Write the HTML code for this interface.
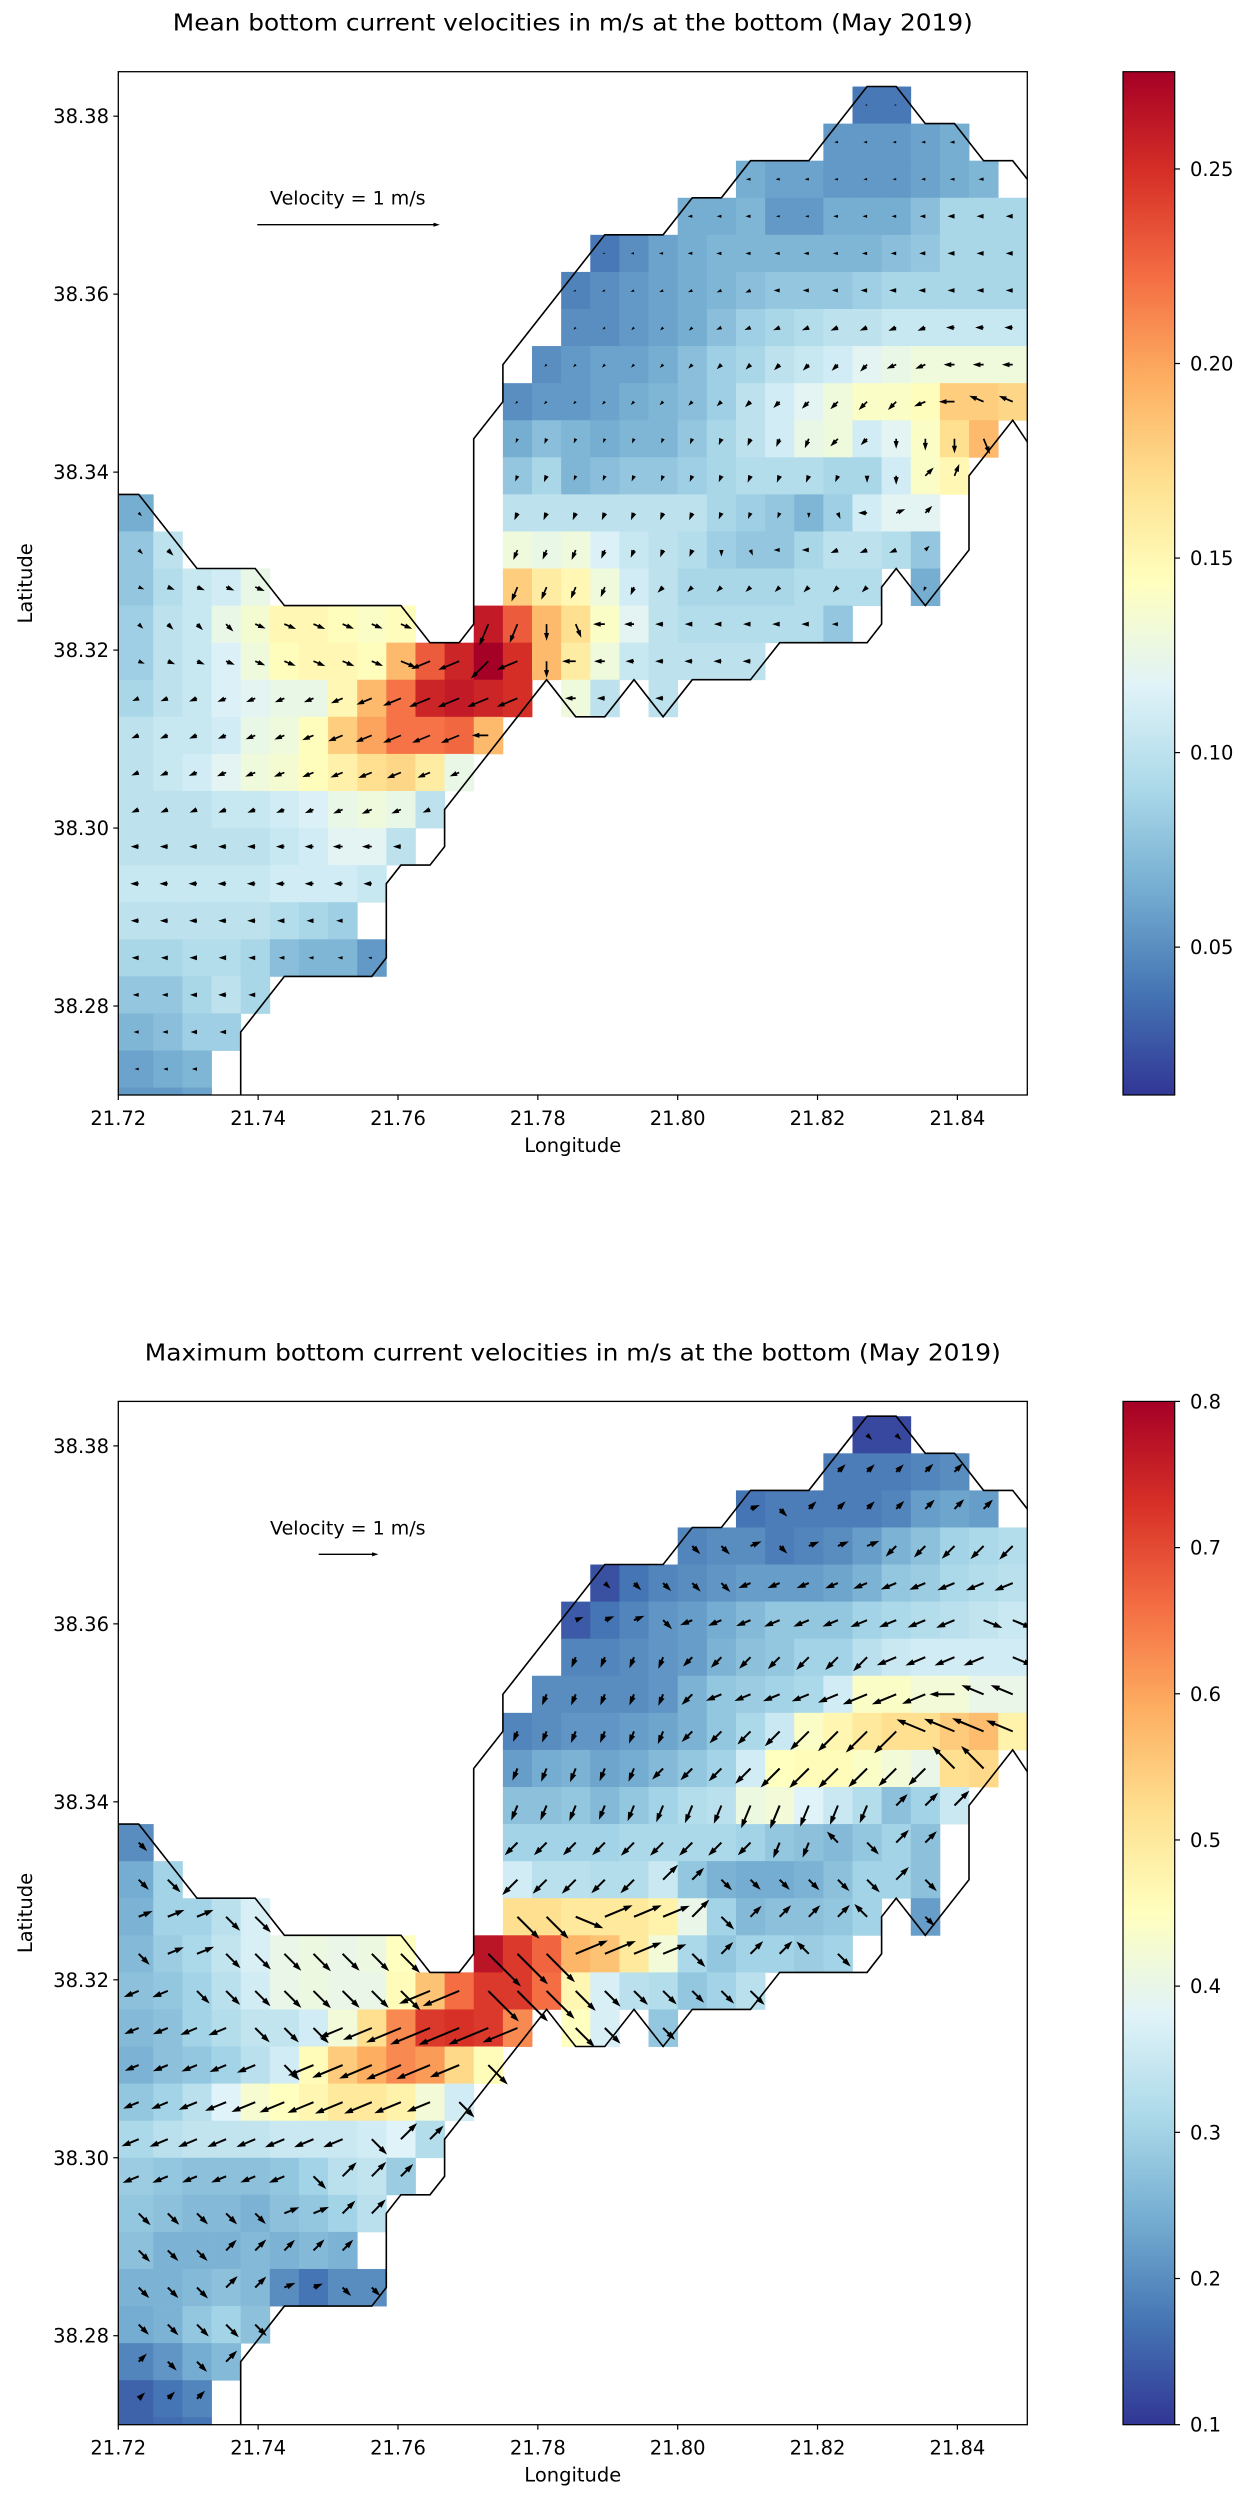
<!DOCTYPE html>
<html><head><meta charset="utf-8"><title>Bottom current velocities</title>
<style>
html,body{margin:0;padding:0;background:#fff;}
svg{display:block;font-family:"DejaVu Sans","Liberation Sans",sans-serif;}
</style></head>
<body>
<svg id="fig" xmlns="http://www.w3.org/2000/svg" width="1238" height="2500" viewBox="0 0 1238 2500">
<defs>
<linearGradient id="cmap" x1="0" y1="0" x2="0" y2="1">
<stop offset="0" stop-color="#a50026"/><stop offset="0.1" stop-color="#d73027"/><stop offset="0.2" stop-color="#f46d43"/><stop offset="0.3" stop-color="#fdae61"/><stop offset="0.4" stop-color="#fee090"/><stop offset="0.5" stop-color="#ffffbf"/><stop offset="0.6" stop-color="#e0f3f8"/><stop offset="0.7" stop-color="#abd9e9"/><stop offset="0.8" stop-color="#74add1"/><stop offset="0.9" stop-color="#4575b4"/><stop offset="1" stop-color="#313695"/>
</linearGradient>
<clipPath id="clip0"><rect x="118.3" y="71.7" width="909" height="1023.3"/></clipPath>
<clipPath id="clip1"><rect x="118.3" y="1401.4" width="909" height="1023.3"/></clipPath>
</defs>
</svg>
<script>
// ---- shared grid segments (row index from top, first column) ----
const segRow=[0,1,2,3,4,5,6,7,8,9,10,11,11,12,12,13,13,13,14,14,15,16,16,16,17,18,19,20,21,22,23,24,25,26,27];
const segStart=[25,24,21,19,16,15,15,14,13,13,13,0,13,0,13,0,13,27,0,12,0,0,15,18,0,0,0,0,0,0,0,0,0,0,0];
// ---- mean speed (m/s) ----
const meanVals=[
[0.04,0.04],
[0.055,0.055,0.055,0.06,0.065],
[0.065,0.06,0.06,0.055,0.055,0.055,0.06,0.065,0.07],
[0.065,0.065,0.07,0.055,0.055,0.065,0.065,0.065,0.075,0.09,0.09,0.09],
[0.04,0.05,0.06,0.065,0.07,0.07,0.07,0.07,0.07,0.07,0.075,0.08,0.09,0.09,0.09],
[0.045,0.05,0.055,0.06,0.065,0.07,0.075,0.08,0.08,0.08,0.085,0.09,0.09,0.09,0.09,0.09],
[0.05,0.05,0.055,0.06,0.065,0.075,0.085,0.09,0.095,0.1,0.1,0.105,0.105,0.105,0.105,0.105],
[0.05,0.055,0.06,0.06,0.065,0.075,0.085,0.09,0.1,0.105,0.11,0.12,0.125,0.13,0.13,0.13,0.13],
[0.05,0.055,0.055,0.06,0.065,0.07,0.075,0.085,0.1,0.11,0.12,0.13,0.14,0.14,0.145,0.18,0.18,0.175],
[0.065,0.075,0.07,0.065,0.07,0.07,0.08,0.09,0.1,0.11,0.125,0.13,0.11,0.12,0.14,0.17,0.19],
[0.08,0.09,0.07,0.075,0.08,0.08,0.085,0.09,0.095,0.095,0.095,0.09,0.09,0.11,0.14,0.15],
[0.065],
[0.1,0.1,0.1,0.1,0.1,0.1,0.1,0.09,0.085,0.08,0.07,0.085,0.11,0.12,0.12],
[0.08,0.1],
[0.13,0.125,0.13,0.115,0.105,0.1,0.095,0.085,0.08,0.08,0.09,0.1,0.1,0.095,0.08],
[0.08,0.095,0.105,0.11,0.125],
[0.18,0.16,0.15,0.13,0.11,0.1,0.09,0.09,0.09,0.09,0.095,0.095,0.095],
[0.065],
[0.085,0.1,0.105,0.125,0.135,0.15,0.15,0.145,0.14,0.145],
[0.26,0.23,0.19,0.17,0.14,0.12,0.1,0.095,0.095,0.095,0.095,0.095,0.08],
[0.085,0.1,0.105,0.115,0.13,0.145,0.15,0.15,0.145,0.19,0.23,0.255,0.275,0.25,0.19,0.16,0.13,0.105,0.1,0.1,0.1,0.1],
[0.09,0.1,0.105,0.115,0.12,0.125,0.125,0.15,0.19,0.22,0.255,0.26,0.255,0.25],
[0.13,0.1],
[0.1],
[0.1,0.105,0.105,0.11,0.125,0.13,0.145,0.18,0.2,0.22,0.22,0.225,0.19],
[0.1,0.105,0.11,0.12,0.13,0.135,0.145,0.155,0.17,0.175,0.16,0.125],
[0.1,0.1,0.1,0.105,0.105,0.11,0.115,0.125,0.13,0.125,0.1],
[0.1,0.1,0.1,0.1,0.1,0.105,0.11,0.12,0.12,0.1],
[0.105,0.105,0.105,0.105,0.105,0.11,0.11,0.11,0.105],
[0.1,0.1,0.1,0.1,0.1,0.095,0.09,0.085],
[0.09,0.09,0.095,0.095,0.09,0.075,0.07,0.07,0.055],
[0.08,0.08,0.09,0.1,0.09],
[0.07,0.075,0.085,0.085],
[0.06,0.065,0.07],
[0.055,0.055,0.06]];
// direction codes: a=E, then +22.5deg counter-clockwise per letter (e=N, i=W, m=S)
const meanDirs=["ii","iiiii","iiiiiiiii","iiiiiiiiiiii","iiiiiiiiiiiiiii","jjjjjjjiiiiiiiii","kkkkkjjjjjjjjiii","kkkkkkkkkkkkjjiii","kkkkkkkkkkkkkkjihh","lllllllllllkkmmmn","llllllllllllmmcd","o","llllllllllmnibc","oo","lllllllmniijjjc","ppppp","lllllkkkkkkkk","l","oooopppppp","llmniiiiiiiii","ppppppppppjjkjmiiiiiii","jjjjjjjjjjjjjj","ii","i","jjjjjjjjjjjji","jjjjjjjjjjjj","jjjjjjjjjjj","iiiiiiiiii","iiiiiiiii","iiiiiiii","iiiiiiiii","iiiii","iiii","iii","iii"];
// ---- maximum speed (m/s) ----
const maxVals=[
[0.12,0.12],
[0.18,0.18,0.18,0.19,0.2],
[0.17,0.18,0.18,0.18,0.18,0.19,0.22,0.23,0.22],
[0.19,0.2,0.2,0.18,0.19,0.2,0.22,0.25,0.27,0.3,0.31,0.32],
[0.13,0.17,0.19,0.2,0.21,0.22,0.22,0.22,0.23,0.25,0.28,0.29,0.31,0.32,0.33],
[0.14,0.17,0.19,0.21,0.22,0.24,0.26,0.28,0.28,0.28,0.3,0.31,0.32,0.33,0.34,0.35],
[0.19,0.19,0.2,0.21,0.22,0.25,0.27,0.28,0.3,0.3,0.33,0.35,0.36,0.36,0.36,0.36],
[0.2,0.2,0.2,0.2,0.21,0.25,0.28,0.29,0.3,0.31,0.36,0.44,0.44,0.42,0.42,0.4,0.4],
[0.19,0.2,0.21,0.21,0.22,0.23,0.25,0.28,0.31,0.35,0.44,0.47,0.5,0.52,0.52,0.55,0.57,0.48],
[0.22,0.24,0.25,0.23,0.24,0.26,0.28,0.3,0.36,0.45,0.46,0.46,0.44,0.42,0.4,0.52,0.53],
[0.27,0.27,0.28,0.26,0.28,0.3,0.32,0.33,0.41,0.42,0.38,0.35,0.32,0.27,0.3,0.35],
[0.2],
[0.3,0.3,0.3,0.3,0.31,0.31,0.31,0.31,0.3,0.28,0.27,0.26,0.28,0.3,0.27],
[0.24,0.3],
[0.36,0.33,0.33,0.32,0.32,0.35,0.28,0.25,0.24,0.24,0.25,0.27,0.3,0.3,0.27],
[0.25,0.3,0.3,0.33,0.37],
[0.52,0.52,0.5,0.5,0.5,0.48,0.4,0.3,0.26,0.27,0.27,0.28,0.3],
[0.22],
[0.26,0.29,0.31,0.34,0.37,0.4,0.41,0.4,0.41,0.45],
[0.77,0.72,0.67,0.58,0.56,0.5,0.42,0.31,0.28,0.3,0.3,0.29,0.3],
[0.27,0.28,0.3,0.33,0.36,0.4,0.41,0.4,0.4,0.46,0.56,0.66,0.72,0.72,0.66,0.47,0.37,0.33,0.32,0.28,0.3,0.33],
[0.26,0.27,0.3,0.32,0.34,0.34,0.36,0.42,0.52,0.63,0.72,0.73,0.72,0.63],
[0.45,0.37],
[0.28],
[0.25,0.27,0.28,0.3,0.33,0.36,0.46,0.55,0.59,0.63,0.61,0.53,0.46],
[0.28,0.3,0.33,0.38,0.43,0.45,0.47,0.5,0.5,0.48,0.42,0.36],
[0.31,0.33,0.34,0.34,0.34,0.35,0.35,0.35,0.36,0.38,0.32],
[0.29,0.28,0.27,0.27,0.27,0.28,0.3,0.33,0.34,0.29],
[0.28,0.27,0.26,0.26,0.25,0.27,0.28,0.3,0.33],
[0.27,0.25,0.25,0.25,0.26,0.25,0.26,0.25],
[0.25,0.25,0.26,0.27,0.26,0.2,0.17,0.2,0.2],
[0.24,0.25,0.28,0.3,0.27],
[0.19,0.21,0.24,0.26],
[0.15,0.17,0.19],
[0.15,0.16,0.17]];
const maxDirs=["oo","ccccc","boccccccc","oobobbbkkkkk","ooooojjjjjjjjjj","bbbojjjjjjjjjjpp","llllkkkkkkkjjjjp","lllllkjjjjjjjjihh","llllllkkkkkkkkhhhh","lllllkkkkkkkkkkgg","lllllllllllllccc","o","kkkkkkkkkllgocc","oo","kkkkkccooooooco","bbboo","oopbbbcoccccg","o","obbooooooo","ooobbbbocccgo","jjoooooooojjoooooooooo","jjjjooojjjjjjj","oo","o","jjjjjojjjjjjo","jjjjjjjjjjjo","jjjjjjjjocc","jjjjjjoccc","ooooobbcc","ooocccccc","oooccbboo","ooooo","cooc","ccc","ccc"];
// ---- coastline in grid units (u: column, v: row from top) ----
const coastWU=[-0.3,0.5,2.5,4.5,5.5,9.5,10.5,11.5,12,12,13,13,16.5,18.5,19.5,20.5,21.5,23.5,25.5,26.5,27.5,28.5,29.5,30.5,31.1,31.1];
const coastWV=[11,11,13,13,14,14,15,15,14.5,9.5,8.5,7.5,4,4,3,3,2,2,0,0,1,1,2,2,2.6,3.6];
const coastSU=[4,4,5.5,8.5,9,9,9.5,10.5,11,11,14.5,15.5,16.5,17.5,18.5,19.5,21.5,22.5,25.5,26,26,26.5,27.5,29,29,30.5,31.1];
const coastSV=[27.5,25.5,24,24,23.5,21.5,21,21,20.5,19.5,16,17,17,16,17,16,16,15,15,14.5,13.5,13,14,12.5,10.5,9,9.7];
// ---- axes ----
const xTicks=[21.72,21.74,21.76,21.78,21.80,21.82,21.84];
const yTicks=[38.28,38.30,38.32,38.34,38.36,38.38];
const meanCbTicks=[0.05,0.10,0.15,0.20,0.25];
const maxCbTicks=[0.1,0.2,0.3,0.4,0.5,0.6,0.7,0.8];

const NS='http://www.w3.org/2000/svg';
const svg=document.getElementById('fig');
const X0=118.3,X1=1027.3,LON0=21.72,LON1=21.85,LAT0=38.27,LAT1=38.385,PH=1023.3;
const CMAP=['#313695','#4575b4','#74add1','#abd9e9','#e0f3f8','#ffffbf','#fee090','#fdae61','#f46d43','#d73027','#a50026'];
function hex(c){return [parseInt(c.substr(1,2),16),parseInt(c.substr(3,2),16),parseInt(c.substr(5,2),16)];}
function color(t){t=Math.max(0,Math.min(1,t));const p=t*10,i=Math.min(9,Math.floor(p)),f=p-i;const a=hex(CMAP[i]),b=hex(CMAP[i+1]);return 'rgb('+a.map((x,k)=>Math.round(x+(b[k]-x)*f)).join(',')+')';}
function xOf(lon){return X0+(lon-LON0)/(LON1-LON0)*(X1-X0);}
function yOf(lat,top){return top+(LAT1-lat)/(LAT1-LAT0)*PH;}
function uLon(u){return (u+5213)/240;}
function vLat(v){return (9212-v)/240;}
function el(tag,attrs,parent){const e=document.createElementNS(NS,tag);for(const k in attrs)e.setAttribute(k,attrs[k]);(parent||svg).appendChild(e);return e;}
function txt(s,x,y,size,anchor,parent){const t=el('text',{x:x,y:y,'font-size':size,'text-anchor':anchor||'middle',fill:'#000'},parent);t.textContent=s;return t;}
function arrowPoly(x,y,deg,L,w,parent){
  if(L<0.6)return null;
  let hl=4.5*w,hw=3*w,sw=w;
  if(L<hl){const k=L/hl;hl=L;hw*=k;sw=Math.max(0.8,w*k);}
  const pts=[[0,-sw/2],[L-hl,-sw/2],[L-hl,-hw/2],[L,0],[L-hl,hw/2],[L-hl,sw/2],[0,sw/2]];
  const a=-deg*Math.PI/180,c=Math.cos(a),s=Math.sin(a);
  const p=pts.map(q=>(x+q[0]*c-q[1]*s).toFixed(1)+','+(y+q[0]*s+q[1]*c).toFixed(1)).join(' ');
  return el('polygon',{points:p,fill:'#000'},parent);
}
function drawPanel(idx,top,title,titleLen,vals,dirs,vmin,vmax,cbTicks,cbFmt,arrowScale,arrowOff,arrowW,keyLen){
  const g=el('g',{});
  
  
  const tt=txt(title,572.8,top-41,23,'middle',g);
  tt.setAttribute('textLength',titleLen);tt.setAttribute('lengthAdjust','spacingAndGlyphs');
  
  
  const cells=el('g',{'clip-path':'url(#clip'+idx+')'},g);
  
  
  const arrows=el('g',{'clip-path':'url(#clip'+idx+')'},g);
  
  
  for(let s=0;s<segRow.length;s++){
    const r=segRow[s];
    for(let j=0;j<vals[s].length;j++){
      const c=segStart[s]+j,v=vals[s][j];
      const u0=c===0?-1:c;
      const x0=xOf(uLon(u0)),x1=xOf(uLon(c+1)),y0=yOf(vLat(r),top),y1=yOf(vLat(r+1),top);
      const rc=el('rect',{x:x0.toFixed(2),y:y0.toFixed(2),width:(x1-x0+0.4).toFixed(2),height:(y1-y0+0.4).toFixed(2),fill:color((v-vmin)/(vmax-vmin))},cells);
      
      
      const d=(dirs[s]||'')[j]||'i';
      const deg=('abcdefghijklmnop'.indexOf(d))*22.5;
      const L=Math.max(0,arrowScale*v-arrowOff);
      const ar=arrowPoly(xOf(uLon(c+0.5)),yOf(vLat(r+0.5),top),deg,L,arrowW,arrows);
      if(ar){
        
        
      }
    }
  }
  const coast=el('g',{'clip-path':'url(#clip'+idx+')',fill:'none',stroke:'#000','stroke-width':1.6},g);
  
  
  const pw=coastWU.map((u,i)=>xOf(uLon(u)).toFixed(1)+','+yOf(vLat(coastWV[i]),top).toFixed(1)).join(' ');
  const ps=coastSU.map((u,i)=>xOf(uLon(u)).toFixed(1)+','+yOf(vLat(coastSV[i]),top).toFixed(1)).join(' ');
  el('polyline',{points:pw},coast);el('polyline',{points:ps},coast);
  const fr=el('rect',{x:X0,y:top,width:X1-X0,height:PH,fill:'none',stroke:'#000','stroke-width':1.3},g);
  
  
  for(const t of xTicks){const x=xOf(t);el('line',{x1:x,y1:top+PH,x2:x,y2:top+PH+5,stroke:'#000','stroke-width':1.2},g);
    const lb=txt(t.toFixed(2),x,top+PH+30,19.5,'middle',g);
    
    }
  const xl=txt('Longitude',572.8,top+PH+57,19.5,'middle',g);
  
  
  for(const t of yTicks){const y=yOf(t,top);el('line',{x1:X0-5,y1:y,x2:X0,y2:y,stroke:'#000','stroke-width':1.2},g);
    const lb=txt(t.toFixed(2),109,y+7,19.5,'end',g);
    
    }
  const yl=txt('Latitude',0,0,19.5,'middle',g);
  yl.setAttribute('transform','translate(32,'+(top+PH/2)+') rotate(-90)');
  
  
  const kt=txt('Velocity = 1 m/s',347.8,top+133,19,'middle',g);
  
  
  const kx=idx===0?257.3:318.7;
  const ka=arrowPoly(kx,top+(idx===0?153:152.9),0,keyLen,1.4,g);
  
  
  const cb=el('rect',{x:1123,y:top,width:51.7,height:PH,fill:'url(#cmap)',stroke:'#000','stroke-width':1.2},g);
  
  
  for(const t of cbTicks){const y=top+(vmax-t)/(vmax-vmin)*PH;
    el('line',{x1:1174.7,y1:y,x2:1180,y2:y,stroke:'#000','stroke-width':1.2},g);
    const lb=txt(t.toFixed(cbFmt),1190,y+7,19.5,'start',g);
    
    }
}
drawPanel(0,71.7,'Mean bottom current velocities in m/s at the bottom (May 2019)',800,meanVals,meanDirs,0.012,0.275,meanCbTicks,2,95,1.5,1.7,182.5);
drawPanel(1,1401.4,'Maximum bottom current velocities in m/s at the bottom (May 2019)',856,maxVals,maxDirs,0.1,0.8,maxCbTicks,1,60,0,2.0,59.7);
</script>
</body></html>
